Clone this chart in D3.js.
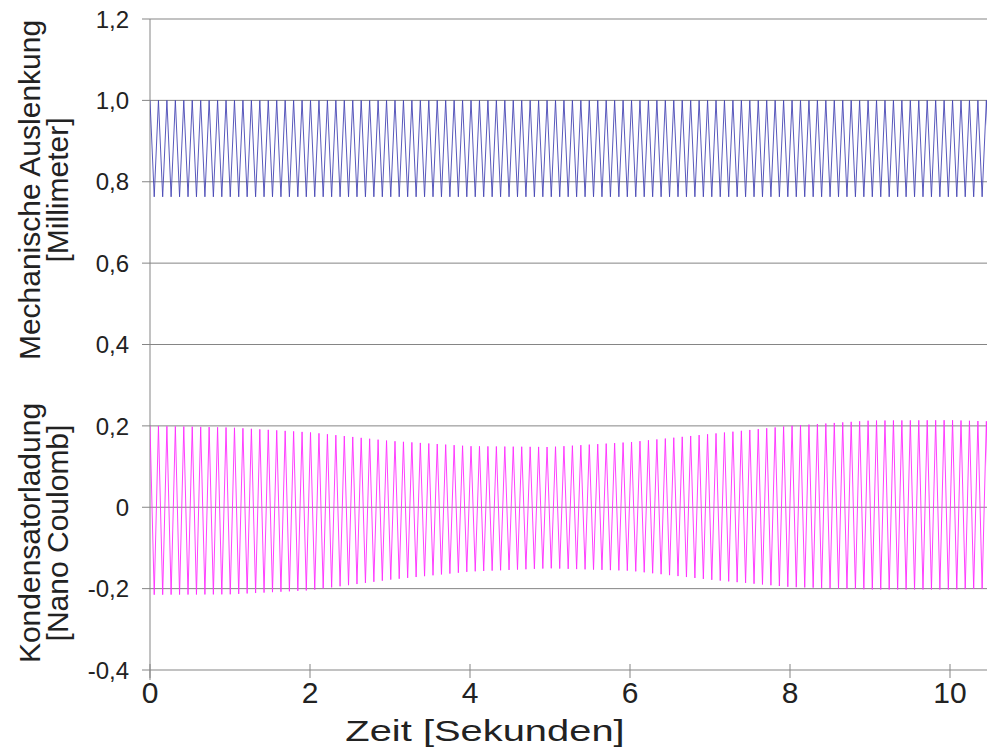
<!DOCTYPE html>
<html>
<head>
<meta charset="utf-8">
<script src="https://cdn.jsdelivr.net/npm/d3@7"></script>
<style>
  body { margin: 0; background: #fff; }
  svg text { font-family: 'Liberation Sans', Arial, sans-serif; fill: #222; }
</style>
</head>
<body>
<div id="wrapper"></div>
<script>
// values
const yTicks = [1.2, 1.0, 0.8, 0.6, 0.4, 0.2, 0, -0.2, -0.4];
const xTicks = [0, 2, 4, 6, 8, 10];
const cyclePeriod = 0.1056; // seconds per oscillation

// envelope (peak values) sampled along time
const envTimes = [0, 1, 2, 3, 4, 5, 6, 7, 8, 9, 10, 10.5];
const blueUpper = [1.0, 1.0, 1.0, 1.0, 1.0, 1.0, 1.0, 1.0, 1.0, 1.0, 1.0, 1.0];
const blueLower = [0.763, 0.763, 0.763, 0.763, 0.763, 0.763, 0.763, 0.763, 0.763, 0.763, 0.763, 0.763];
const pinkUpper = [0.200, 0.196, 0.184, 0.163, 0.150, 0.148, 0.160, 0.180, 0.200, 0.213, 0.214, 0.211];
const pinkLower = [-0.215, -0.214, -0.204, -0.178, -0.158, -0.150, -0.156, -0.178, -0.196, -0.202, -0.202, -0.200];

function drawChart() {
  // dimensions
  const width = 987, height = 749;
  const margin = {top: 19, left: 150};
  const plotBottom = 670;

  const svg = d3.select('#wrapper')
    .append('svg')
    .attr('width', width)
    .attr('height', height);

  // scales
  const x = d3.scaleLinear().domain([0, 10.5]).range([margin.left, 990]);
  const y = d3.scaleLinear().domain([-0.4, 1.2]).range([plotBottom, margin.top]);

  // grid
  svg.append('g')
    .selectAll('line')
    .data(yTicks)
    .join('line')
    .attr('x1', margin.left - 8)
    .attr('x2', width)
    .attr('y1', d => y(d))
    .attr('y2', d => y(d))
    .attr('stroke', '#858585')
    .attr('stroke-width', 1);

  // left axis line
  svg.append('line')
    .attr('x1', x(0)).attr('x2', x(0))
    .attr('y1', y(1.2)).attr('y2', plotBottom + 10)
    .attr('stroke', '#858585');

  // x ticks
  svg.append('g')
    .selectAll('line')
    .data(xTicks)
    .join('line')
    .attr('x1', d => x(d)).attr('x2', d => x(d))
    .attr('y1', plotBottom - 6).attr('y2', plotBottom + 8)
    .attr('stroke', '#858585');

  // tick labels
  const fmt = d => d === 0 ? '0' : d3.format('.1f')(d).replace('.', ',').replace('\u2212', '-');
  svg.append('g')
    .selectAll('text')
    .data(yTicks)
    .join('text')
    .attr('x', 129)
    .attr('y', d => y(d))
    .attr('dy', '0.36em')
    .attr('text-anchor', 'end')
    .style('font-size', '24px')
    .text(fmt);

  svg.append('g')
    .selectAll('text')
    .data(xTicks)
    .join('text')
    .attr('x', d => x(d))
    .attr('y', 703)
    .attr('text-anchor', 'middle')
    .style('font-size', '30px')
    .text(d => d);

  // titles
  svg.append('text')
    .attr('transform', 'translate(485, 741) scale(1.33, 1)')
    .attr('text-anchor', 'middle')
    .style('font-size', '30px')
    .text('Zeit [Sekunden]');

  const yTitle = (lines, cy) => {
    lines.forEach((t, i) => {
      svg.append('text')
        .attr('transform', `translate(${40 + i * 28}, ${cy}) rotate(-90)`)
        .attr('text-anchor', 'middle')
        .style('font-size', '30px')
        .text(t);
    });
  };
  yTitle(['Mechanische Auslenkung', '[Millimeter]'], 190);
  yTitle(['Kondensatorladung', '[Nano Coulomb]'], 533);

  // signals: alternate between upper and lower envelope every half period
  svg.append('clipPath').attr('id', 'plot')
    .append('rect')
    .attr('x', x(0)).attr('y', 0)
    .attr('width', width - x(0)).attr('height', plotBottom);

  const makeSignal = (upperVals, lowerVals) => {
    const up = d3.scaleLinear().domain(envTimes).range(upperVals);
    const lo = d3.scaleLinear().domain(envTimes).range(lowerVals);
    const n = Math.ceil(10.5 / (cyclePeriod / 2));
    return d3.range(n + 1).map(k => {
      const t = k * cyclePeriod / 2;
      return [t, k % 2 === 0 ? up(t) : lo(t)];
    });
  };

  const line = d3.line()
    .x(d => x(d[0]))
    .y(d => y(d[1]));

  svg.append('path')
    .attr('clip-path', 'url(#plot)')
    .attr('d', line(makeSignal(blueUpper, blueLower)))
    .attr('fill', 'none')
    .attr('stroke', '#4646b4')
    .attr('stroke-width', 0.9);

  svg.append('path')
    .attr('clip-path', 'url(#plot)')
    .attr('d', line(makeSignal(pinkUpper, pinkLower)))
    .attr('fill', 'none')
    .attr('stroke', '#ff2cff')
    .attr('stroke-width', 0.9);
}
drawChart();
</script>
</body>
</html>
